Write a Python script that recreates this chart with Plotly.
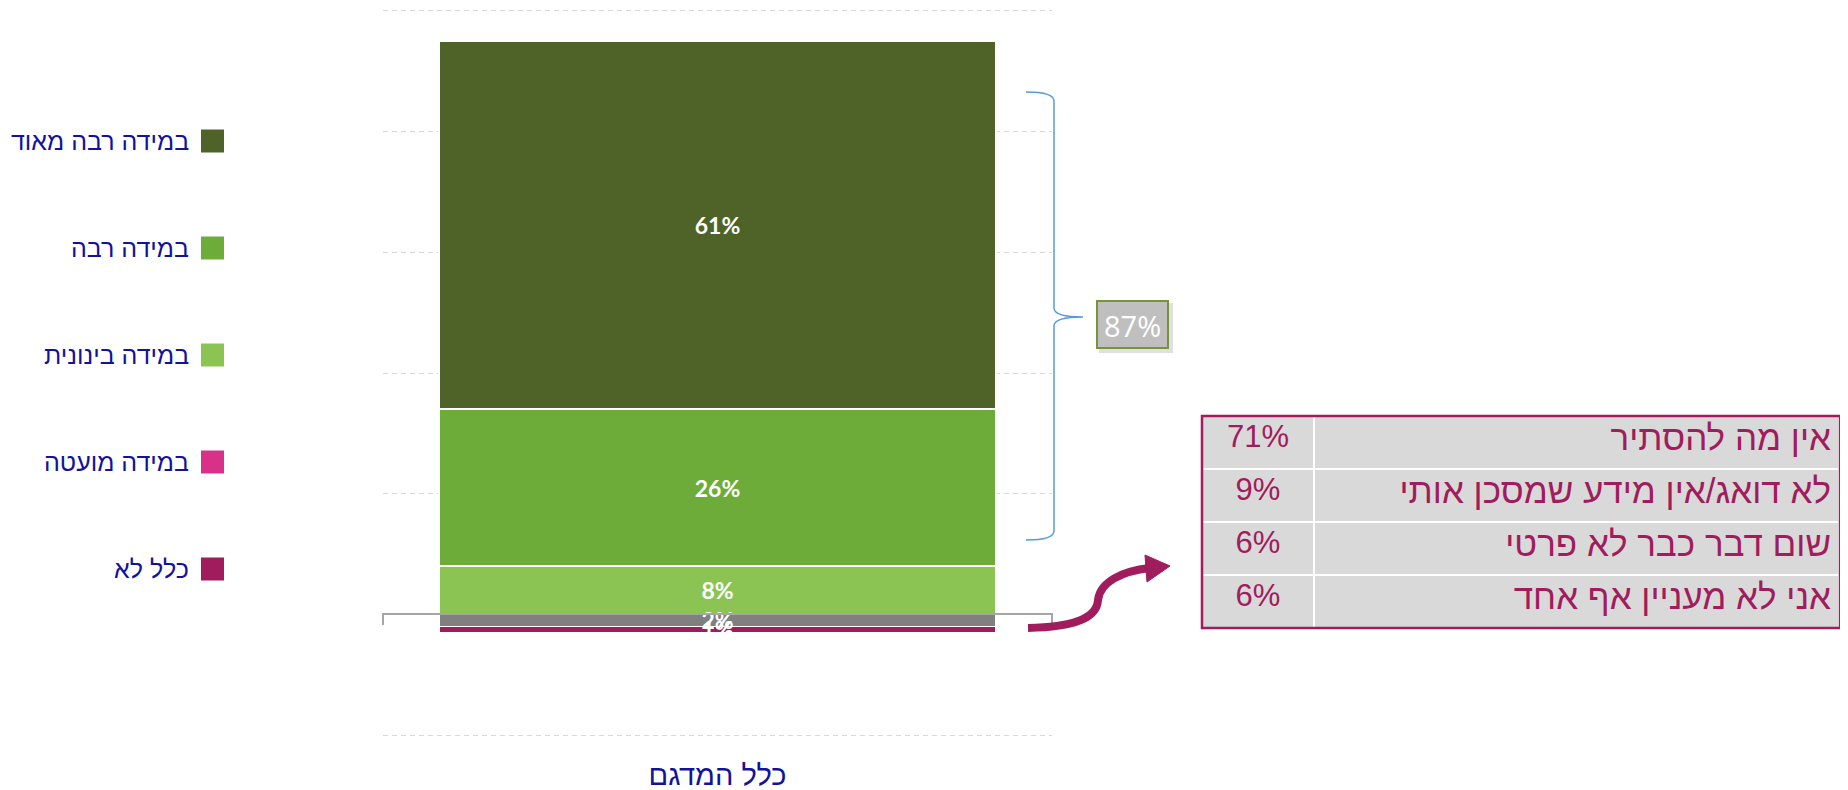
import plotly.graph_objects as go

# page offset of the plot div (default body margin) and figure size
OX, OY = 8, 8
FW, FH = 1832, 782

categories = ["כלל המדגם"]
levels = ["כלל לא", "במידה מועטה", "במידה בינונית", "במידה רבה", "במידה רבה מאוד"]
level_pct = [1, 2, 8, 26, 61]
bar_colors = ["#A01C5C", "#808080", "#8BC453", "#6EAC3A", "#4F6228"]
legend_colors = ["#A01C5C", "#D9318A", "#8BC453", "#6EAC3A", "#4F6228"]

reasons = ["אין מה להסתיר", "לא דואג/אין מידע שמסכן אותי", "שום דבר כבר לא פרטי", "אני לא מעניין אף אחד"]
reason_pct = [71, 9, 6, 6]

NAVY = "#12129A"
PLUM = "#A01C5C"
LABEL_DROP = 0.55  # small downward nudge (in axis units) so text sits optically centred


def px(x):
    return (x - OX) / FW


def py(y):
    return 1 - (y - OY) / FH


def path(cmds, close=False):
    # cmds: list of (letter, [x, y, ...]) in page pixels -> path in paper units
    out = []
    for letter, pts in cmds:
        coords = [f"{px(pts[i]):.5f},{py(pts[i + 1]):.5f}" for i in range(0, len(pts), 2)]
        out.append(letter + " " + " ".join(coords))
    return " ".join(out) + (" Z" if close else "")


fig = go.Figure()

for name, val, col in zip(levels, level_pct, bar_colors):
    fig.add_trace(go.Bar(
        x=categories, y=[val], name=name,
        marker=dict(color=col, line=dict(color="white", width=1.5)),
        showlegend=False, hoverinfo="skip",
    ))

# segment labels on top of all bars (so the thin ones are not covered)
mids, run = [], 0
for v in level_pct:
    mids.append(run + v / 2 - LABEL_DROP)
    run += v
fig.add_trace(go.Scatter(
    x=categories * len(level_pct), y=mids[::-1], mode="text",
    text=[f"{v}%" for v in level_pct[::-1]], textposition="middle center",
    textfont=dict(family="Lato", size=23, color="white", weight="bold"),
    showlegend=False, hoverinfo="skip", cliponaxis=False,
))

pct_text = [f"{v}%" for v in reason_pct]
table_font = dict(family="Liberation Sans", size=[31, 35], color=PLUM)
fig.add_trace(go.Table(
    domain=dict(x=[px(1202), px(1840)], y=[py(628), py(416)]),
    columnwidth=[112, 526],
    header=dict(values=[pct_text[0], reasons[0]], height=53,
                fill=dict(color="#D9D9D9"), line=dict(color="white", width=2),
                align=["center", "right"], font=table_font),
    cells=dict(
        values=[pct_text[1:], reasons[1:]],
        fill=dict(color="#D9D9D9"),
        line=dict(color="white", width=2),
        height=53,
        align=["center", "right"],
        font=table_font,
    ),
))

shapes = []
annotations = []

# legend drawn by hand (square on the right of the text)
for i, (name, col) in enumerate(zip(levels[::-1], legend_colors[::-1])):
    yc = 141 + 107 * i
    shapes.append(dict(type="rect", xref="paper", yref="paper",
                       x0=px(201), x1=px(224), y0=py(yc + 11.5), y1=py(yc - 11.5),
                       fillcolor=col, line=dict(width=0)))
    annotations.append(dict(x=px(191), y=py(yc), xref="paper", yref="paper",
                            xanchor="right", yanchor="middle", showarrow=False, text=name,
                            font=dict(family="Liberation Sans", size=25, color=NAVY)))

# grey bracket near the bottom of the bar
shapes.append(dict(type="path", xref="paper", yref="paper",
                   path=path([("M", [383, 625]), ("L", [383, 614]), ("L", [1052, 614]),
                              ("L", [1052, 625])]),
                   line=dict(color="#A6A6A6", width=2)))

# blue curly brace
shapes.append(dict(type="path", xref="paper", yref="paper",
                   path=path([("M", [1026, 92]), ("Q", [1054, 92, 1054, 101]), ("L", [1054, 308]),
                              ("Q", [1054, 317, 1083, 317]), ("Q", [1054, 317, 1054, 326]),
                              ("L", [1054, 531]), ("Q", [1054, 540, 1026, 540])]),
                   line=dict(color="#5B9BD5", width=1.5)))

# 87% box
top_two = level_pct[-1] + level_pct[-2]
shapes.append(dict(type="rect", xref="paper", yref="paper",
                   x0=px(1099), x1=px(1173), y0=py(353), y1=py(303),
                   fillcolor="rgba(0,0,0,0.12)", line=dict(width=0)))
shapes.append(dict(type="rect", xref="paper", yref="paper",
                   x0=px(1097), x1=px(1168), y0=py(348), y1=py(301),
                   fillcolor="#BFBFBF", line=dict(color="#77933C", width=2)))
annotations.append(dict(x=px(1132.5), y=py(325), xref="paper", yref="paper",
                        xanchor="center", yanchor="middle", showarrow=False,
                        text=f"{top_two}%",
                        font=dict(family="Open Sans", size=29, color="white")))

# curved arrow towards the table
shapes.append(dict(type="path", xref="paper", yref="paper",
                   path=path([("M", [1028, 628]), ("C", [1075, 627, 1097, 618, 1098, 600]),
                              ("C", [1100, 582, 1122, 571, 1150, 568])]),
                   line=dict(color=PLUM, width=8)))
shapes.append(dict(type="path", xref="paper", yref="paper",
                   path=path([("M", [1145, 555]), ("L", [1170, 566]), ("L", [1147, 582])], close=True),
                   fillcolor=PLUM, line=dict(color=PLUM, width=1)))

# table frame
shapes.append(dict(type="rect", xref="paper", yref="paper",
                   x0=px(1202), x1=px(1840), y0=py(628), y1=py(416),
                   line=dict(color=PLUM, width=2.5)))

fig.update_layout(
    width=FW, height=FH,
    margin=dict(l=0, r=0, t=0, b=0, autoexpand=False),
    paper_bgcolor="white", plot_bgcolor="white",
    barmode="stack", bargap=0.167,
    shapes=shapes, annotations=annotations,
    xaxis=dict(domain=[px(383), px(1052)], showgrid=False, showline=False, zeroline=False,
               tickfont=dict(family="Liberation Sans", size=29, color=NAVY),
               ticks="", ticklabelstandoff=18),
    yaxis=dict(domain=[py(737), py(9)], range=[-17.33, 103.33], tick0=3, dtick=20,
               showgrid=True, gridcolor="#D9D9D9", griddash="5px,4px", gridwidth=1,
               zeroline=False, showticklabels=False, showline=False),
)

fig.write_html("out.html")
